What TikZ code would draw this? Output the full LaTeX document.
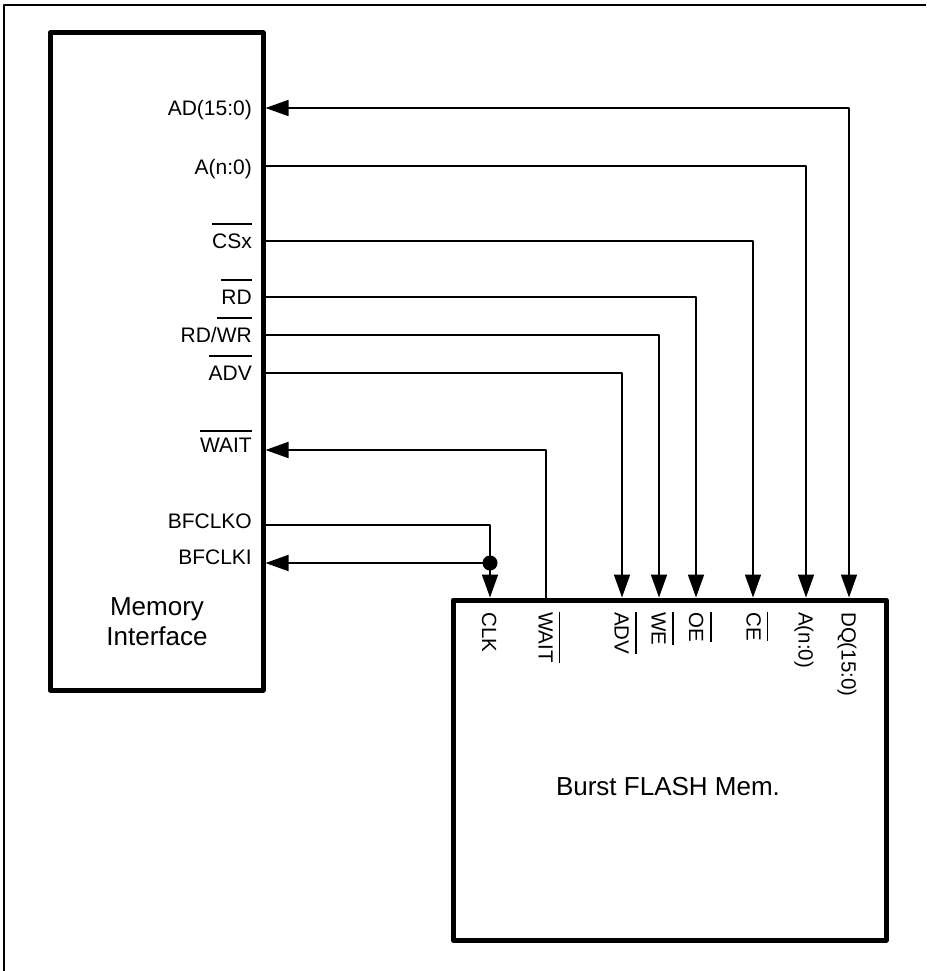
\documentclass[tikz,border=0pt]{standalone}
\usepackage{fontspec}
\setmainfont{Liberation Sans}
\usetikzlibrary{arrows.meta}
\newcommand{\ovl}[2]{\setbox0=\hbox{#2}\rlap{\raisebox{#1}{\rule{\wd0}{1.5pt}}}\box0}
\begin{document}
\begin{tikzpicture}[x=1pt,y=-1pt, line join=round,
  blk/.style={draw, line width=5pt, inner sep=0pt, outer sep=0pt, anchor=north west},
  sig/.style={line width=1.8pt},
  tip/.tip={Triangle[length=23pt,width=16pt]},
  arr/.style={sig, -tip},
  lbl/.style={font=\fontsize{21}{25}\selectfont, inner sep=0pt, anchor=base east},
  pinl/.style={font=\fontsize{20.5}{25}\selectfont, inner sep=0pt, anchor=base west, rotate=-90},
]
\useasboundingbox (0,0) rectangle (926,971);
\draw[line width=2pt] (4,971) -- (4,5) -- (926,5);

% blocks
\node[blk, minimum width=213pt, minimum height=657pt] (mi) at (50,33) {};
\node[blk, minimum width=433pt, minimum height=340pt] (fm) at (453,600) {};

% block titles
\node[font=\fontsize{26}{30}\selectfont, inner sep=0pt, anchor=base] (mitxt) at (157,615)
  {\renewcommand{\arraystretch}{1}\setlength{\tabcolsep}{0pt}\begin{tabular}[t]{c}Memory\\Interface\end{tabular}};
\node[font=\fontsize{26}{30}\selectfont, inner sep=0pt, anchor=base] (fmtxt) at (668,795) {Burst FLASH Mem.};

% pins on memory interface
\coordinate (mAD)   at (265.5,108);
\coordinate (mA)    at (265.5,166);
\coordinate (mCS)   at (265.5,241);
\coordinate (mRD)   at (265.5,297);
\coordinate (mRW)   at (265.5,335);
\coordinate (mADV)  at (265.5,373);
\coordinate (mWAIT) at (265.5,450);
\coordinate (mCO)   at (265.5,525);
\coordinate (mCI)   at (265.5,563);

% pins on flash
\coordinate (fCLK)  at (490,597.5);
\coordinate (fWAIT) at (546,597.5);
\coordinate (fADV)  at (622,597.5);
\coordinate (fWE)   at (659,597.5);
\coordinate (fOE)   at (696,597.5);
\coordinate (fCE)   at (753,597.5);
\coordinate (fA)    at (806,597.5);
\coordinate (fDQ)   at (849,597.5);
\coordinate (jn)    at (490,563);

% connectors
\draw[sig, tip-tip] (mAD) -| (fDQ);
\draw[arr] (mA) -| (fA);
\draw[arr] (mCS) -| (fCE);
\draw[arr] (mRD) -| (fOE);
\draw[arr] (mRW) -| (fWE);
\draw[arr] (mADV) -| (fADV);
\draw[arr] (fWAIT) |- (mWAIT);
\draw[sig] (mCO) -| (jn);
\draw[arr] (jn) -- (fCLK);
\draw[arr] (jn) -- (mCI);
\node[circle, fill, minimum size=15pt, inner sep=0pt] (dot) at (jn) {};

% memory interface labels
\node[lbl] (lAD)   at (252,116)   {AD(15:0)};
\node[lbl] (lA)    at (252,174)   {A(n:0)};
\node[lbl] (lCS)   at (252,248.5) {\ovl{24pt}{CSx}};
\node[lbl] (lRD)   at (252,304.5) {\ovl{24pt}{RD}};
\node[lbl] (lRW)   at (252,342.5) {RD/\ovl{24pt}{WR}};
\node[lbl] (lADV)  at (252,380.5) {\ovl{24pt}{ADV}};
\node[lbl] (lWAIT) at (252,452.5) {\ovl{21pt}{WAIT}};
\node[lbl] (lCO)   at (252,528)   {BFCLKO};
\node[lbl] (lCI)   at (252,564)   {BFCLKI};

% flash labels
\node[pinl] (pCLK)  at (482,612) {CLK};
\node[pinl] (pWAIT) at (538.5,612) {\ovl{20pt}{WAIT}};
\node[pinl] (pADV)  at (614.5,612) {\ovl{20.5pt}{ADV}};
\node[pinl] (pWE)   at (651.5,612) {\ovl{20.5pt}{WE}};
\node[pinl] (pOE)   at (689,612) {\ovl{21pt}{OE}};
\node[pinl] (pCE)   at (746.5,612) {\ovl{20pt}{CE}};
\node[pinl] (pA)    at (798.5,612) {A(n:0)};
\node[pinl] (pDQ)   at (841.5,612) {DQ(15:0)};
\end{tikzpicture}
\end{document}
